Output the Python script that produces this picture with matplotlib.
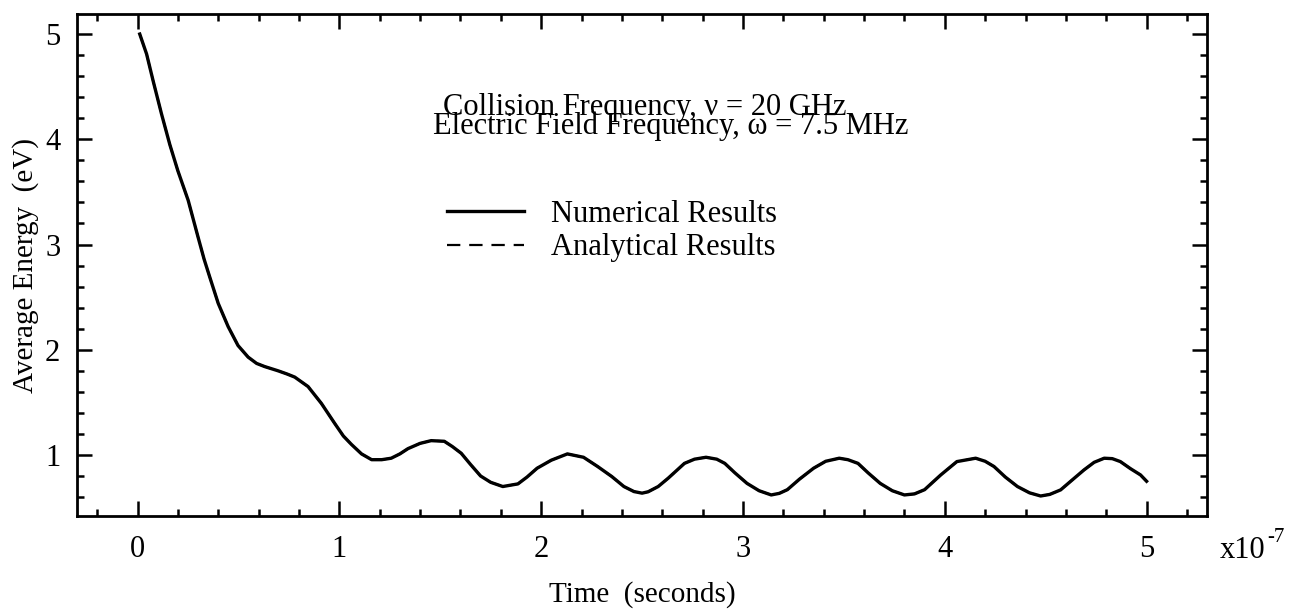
import numpy as np
import matplotlib
matplotlib.use("Agg")
import matplotlib.pyplot as plt

plt.rcParams["font.family"] = ["Liberation Serif", "DejaVu Serif"]

# Time in units of 1e-7 s, average energy in eV
time_e7 = [0.011, 0.045, 0.078, 0.119, 0.16, 0.20, 0.251, 0.30, 0.33, 0.358,
           0.40, 0.449, 0.498, 0.548, 0.59, 0.63, 0.696, 0.74, 0.779, 0.845,
           0.911, 0.977, 1.02, 1.06, 1.11, 1.16, 1.21, 1.257, 1.30, 1.34,
           1.40, 1.455, 1.52, 1.56, 1.604, 1.65, 1.70, 1.75, 1.81, 1.885,
           1.93, 1.98, 2.05, 2.13, 2.21, 2.28, 2.35, 2.41, 2.46, 2.50,
           2.53, 2.58, 2.63, 2.71, 2.76, 2.817, 2.87, 2.91, 2.96, 3.02,
           3.08, 3.14, 3.18, 3.22, 3.28, 3.35, 3.41, 3.477, 3.52, 3.57,
           3.62, 3.68, 3.74, 3.80, 3.85, 3.90, 3.98, 4.06, 4.153, 4.20,
           4.244, 4.30, 4.36, 4.42, 4.475, 4.52, 4.574, 4.63, 4.69, 4.74,
           4.79, 4.83, 4.87, 4.92, 4.97, 5.0]
numerical = [5.0, 4.81, 4.55, 4.24, 3.95, 3.70, 3.42, 3.07, 2.86, 2.69,
             2.44, 2.22, 2.04, 1.93, 1.87, 1.84, 1.80, 1.77, 1.74, 1.65,
             1.49, 1.30, 1.18, 1.10, 1.01, 0.955, 0.955, 0.969, 1.01, 1.06,
             1.11, 1.136, 1.13, 1.08, 1.016, 0.91, 0.80, 0.74, 0.70, 0.725,
             0.79, 0.874, 0.95, 1.01, 0.978, 0.89, 0.795, 0.70, 0.652, 0.637,
             0.65, 0.70, 0.78, 0.92, 0.96, 0.978, 0.96, 0.92, 0.83, 0.73,
             0.66, 0.62, 0.635, 0.67, 0.77, 0.874, 0.94, 0.969, 0.955, 0.92,
             0.83, 0.73, 0.66, 0.62, 0.63, 0.67, 0.81, 0.937, 0.969, 0.94,
             0.89, 0.79, 0.70, 0.64, 0.61, 0.625, 0.668, 0.76, 0.858, 0.93,
             0.969, 0.965, 0.937, 0.87, 0.81, 0.75]
analytical = [5.0, 4.81, 4.55, 4.24, 3.95, 3.70, 3.42, 3.07, 2.86, 2.69,
              2.44, 2.22, 2.04, 1.93, 1.87, 1.84, 1.80, 1.77, 1.74, 1.65,
              1.49, 1.30, 1.18, 1.10, 1.01, 0.955, 0.955, 0.969, 1.01, 1.06,
              1.11, 1.136, 1.13, 1.08, 1.016, 0.91, 0.80, 0.74, 0.70, 0.725,
              0.79, 0.874, 0.95, 1.01, 0.978, 0.89, 0.795, 0.70, 0.652, 0.637,
              0.65, 0.70, 0.78, 0.92, 0.96, 0.978, 0.96, 0.92, 0.83, 0.73,
              0.66, 0.62, 0.635, 0.67, 0.77, 0.874, 0.94, 0.969, 0.955, 0.92,
              0.83, 0.73, 0.66, 0.62, 0.63, 0.67, 0.81, 0.937, 0.969, 0.94,
              0.89, 0.79, 0.70, 0.64, 0.61, 0.625, 0.668, 0.76, 0.858, 0.93,
              0.969, 0.965, 0.937, 0.87, 0.81, 0.75]

x_ticks = [0, 1, 2, 3, 4, 5]
y_ticks = [1, 2, 3, 4, 5]

fig = plt.figure(figsize=(12.98, 6.11), dpi=100)
ax = fig.add_axes([0.0593, 0.1555, 0.8707, 0.8215])

ax.plot(time_e7, numerical, color="black", lw=2.4, solid_joinstyle="round",
        label="Numerical Results")
ax.plot(time_e7, analytical, color="black", lw=1.6, ls=(0, (6, 4)),
        label="Analytical Results")

ax.set_xlim(-0.3, 5.3)
ax.set_ylim(0.42, 5.19)
ax.set_xticks(x_ticks)
ax.set_yticks(y_ticks)
ax.set_xticks(np.arange(-0.2, 5.3, 0.2), minor=True)
ax.set_yticks(np.arange(0.6, 5.2, 0.2), minor=True)
ax.tick_params(which="both", direction="in", top=True, right=True,
               labelsize=22, width=1.8, color="black")
ax.tick_params(which="major", length=10.5)
ax.tick_params(which="minor", length=5)
ax.tick_params(axis="x", pad=14)
ax.tick_params(axis="y", pad=12)
for sp in ax.spines.values():
    sp.set_linewidth(2.0)

ax.set_xlabel("Time  (seconds)", fontsize=21, labelpad=12)
ax.set_ylabel("Average Energy  (eV)", fontsize=21, labelpad=4)

fig.text(0.940, 0.087, "x10", fontsize=22, ha="left", va="baseline")
fig.text(0.976, 0.113, "-7", fontsize=15, ha="left", va="baseline")

ax.text(0.502, 0.799, "Collision Frequency, \u03bd = 20 GHz", transform=ax.transAxes,
        ha="center", va="baseline", fontsize=22)
ax.text(0.525, 0.762, "Electric Field Frequency, \u03c9 = 7.5 MHz", transform=ax.transAxes,
        ha="center", va="baseline", fontsize=22)

ax.legend(loc="upper left", bbox_to_anchor=(0.327, 0.63), frameon=False,
          fontsize=22, handlelength=2.55, handletextpad=0.88, labelspacing=0.15,
          borderpad=0, borderaxespad=0)

fig.savefig("out.png", dpi=100)
